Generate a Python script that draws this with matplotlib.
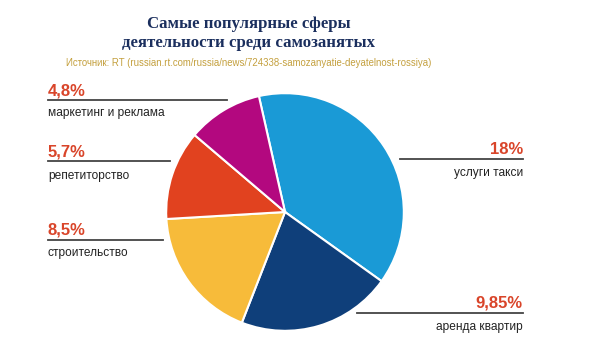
import matplotlib.pyplot as plt
from matplotlib.lines import Line2D

# data
categories = ["услуги такси", "аренда квартир", "строительство", "репетиторство", "маркетинг и реклама"]
values = [18, 9.85, 8.5, 5.7, 4.8]
value_labels = ["18%", "9,85%", "8,5%", "5,7%", "4,8%"]
colors = ["#1a9ad6", "#0f3f7a", "#f7bb3a", "#e1421f", "#b3087f"]

W, H = 600, 360


def px(x, y):                      # pixel position -> figure fraction
    return x / W, 1 - y / H


fig = plt.figure(figsize=(6, 3.6), dpi=100)
fig.patch.set_facecolor("white")

# pie
ax = fig.add_axes([165 / W, (H - 332) / H, 240 / W, 240 / H])
ax.pie(values, colors=colors, startangle=102.7, counterclock=False, radius=1,
       wedgeprops=dict(edgecolor="white", linewidth=1.5))
ax.set_xlim(-1.01, 1.01)
ax.set_ylim(-1.01, 1.01)
ax.axis("off")

# title + source
title_kw = dict(ha="center", va="center", color="#1b2f5e", fontsize=12.1,
                fontweight="bold", family="Liberation Serif")
fig.text(*px(249, 24), "Самые популярные сферы", **title_kw)
fig.text(*px(249, 43), "деятельности среди самозанятых", **title_kw)
fig.text(*px(249, 63), "Источник: RT (russian.rt.com/russia/news/724338-samozanyatie-deyatelnost-rossiya)",
         ha="center", va="center", color="#c4a03e", fontsize=6.95, family="Liberation Sans")

# label layout: (text x, align, percent y, line y, name y, line x0, line x1)
layout = [
    (523, "right", 149.5, 159, 173, 400, 523),
    (523, "right", 302.5, 313, 327, 357, 523),
    (48, "left", 230.5, 240, 253, 48, 163),
    (48, "left", 151.5, 161, 176, 48, 170),
    (48, "left", 91.5, 100, 113, 48, 227),
]

for i, (tx, ha, yp, yl, yn, x0, x1) in enumerate(layout):
    fig.text(*px(tx, yp), value_labels[i], ha=ha, va="center", color="#d9452a",
             fontsize=12, fontweight="bold", family="Liberation Sans")
    fig.text(*px(tx, yn), categories[i], ha=ha, va="center", color="#222222",
             fontsize=8.6, family="Liberation Sans")
    fig.add_artist(Line2D([x0 / W, x1 / W], [1 - yl / H, 1 - yl / H],
                          transform=fig.transFigure, color="#444444", lw=1.3))

fig.savefig("out.png", dpi=100)
